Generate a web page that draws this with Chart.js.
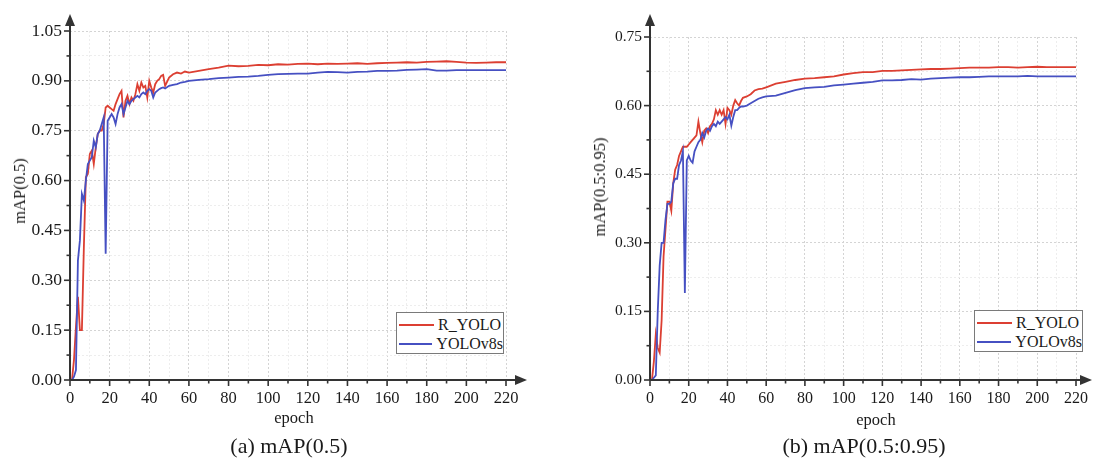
<!DOCTYPE html>
<html>
<head>
<meta charset="utf-8">
<script src="https://cdn.jsdelivr.net/npm/chart.js@4"></script>
<style>
    html, body { margin: 0; padding: 0; background: #fff; }
    body { width: 1097px; height: 464px; position: relative; overflow: hidden; font-family: 'Liberation Serif', 'DejaVu Serif', serif; color: #1a1a1a; }
    .wrap { position: absolute; top: 0; height: 430px; }
    .ytitle { position: absolute; transform: translate(-50%, -50%) rotate(-90deg); white-space: nowrap; font-size: 16.5px; }
    .xtitle { position: absolute; transform: translate(-50%, -50%); font-size: 16.5px; }
    .caption { position: absolute; transform: translate(-50%, -50%); font-size: 22px; white-space: nowrap; }
    .legend { position: absolute; border: 1.5px solid #7a7a7a; background: #fff; box-sizing: border-box; padding: 2px 0 0 2px; }
    .legend-item { display: flex; align-items: center; height: 19px; font-size: 16px; }
    .legend-line { width: 35px; height: 2px; margin-right: 4px; }
</style>
</head>
<body>
<div class="wrap" style="left:0;width:545px;"><canvas id="chartA"></canvas></div>
<div class="wrap" style="left:575px;width:522px;"><canvas id="chartB"></canvas></div>

<div class="ytitle" style="left:20px;top:191px;">mAP(0.5)</div>
<div class="ytitle" style="left:600px;top:187px;">mAP(0.5:0.95)</div>
<div class="xtitle" style="left:294px;top:418px;">epoch</div>
<div class="xtitle" style="left:876px;top:420px;">epoch</div>
<div class="caption" style="left:289px;top:446px;">(a) mAP(0.5)</div>
<div class="caption" style="left:864px;top:446px;">(b) mAP(0.5:0.95)</div>
<div class="legend" id="legendA" style="left:396px;top:312px;width:108px;height:42px;"></div>
<div class="legend" id="legendB" style="left:974px;top:310px;width:109px;height:42px;"></div>

<script>
const seriesNames = ['R_YOLO', 'YOLOv8s'];
const seriesColors = ['#dc3f32', '#4650c2'];

const epochs = [
    0, 1, 2, 3, 4, 5, 6, 7, 8, 9, 10, 11, 12, 13, 14, 15, 16, 17, 18, 19,
    20, 21, 22, 23, 24, 25, 26, 27, 28, 29, 30, 31, 32, 33, 34, 35, 36, 37, 38, 39,
    40, 41, 42, 43, 44, 45, 46, 47, 48, 50, 52, 54, 56, 58, 60,
    65, 70, 75, 80, 85, 90, 95, 100, 105, 110, 115, 120, 125, 130, 135, 140, 145, 150,
    155, 160, 165, 170, 175, 180, 185, 190, 195, 200, 205, 210, 215, 220
];

// mAP(0.5)
const map50Ryolo = [
    0.00, 0.00, 0.06, 0.16, 0.25, 0.15, 0.15, 0.40, 0.61, 0.62,
    0.68, 0.69, 0.65, 0.70, 0.74, 0.75, 0.75, 0.77, 0.82, 0.825,
    0.82, 0.815, 0.81, 0.83, 0.845, 0.86, 0.87, 0.79, 0.84, 0.855,
    0.83, 0.85, 0.84, 0.86, 0.89, 0.87, 0.895, 0.88, 0.885, 0.85,
    0.90, 0.88, 0.865, 0.89, 0.90, 0.905, 0.915, 0.918, 0.885,
    0.91, 0.92, 0.925, 0.922, 0.928, 0.925,
    0.93, 0.935, 0.94, 0.946, 0.944, 0.945, 0.948, 0.947, 0.95, 0.949, 0.951, 0.952, 0.95, 0.952, 0.951, 0.952,
    0.953, 0.951, 0.953, 0.954, 0.955, 0.956, 0.955, 0.957, 0.958, 0.959, 0.957, 0.955, 0.954, 0.955, 0.956, 0.956
];
const map50Yolov8s = [
    0.00, 0.00, 0.01, 0.03, 0.36, 0.42, 0.56, 0.54, 0.60, 0.65,
    0.66, 0.67, 0.72, 0.70, 0.74, 0.75, 0.77, 0.79, 0.38, 0.78,
    0.79, 0.80, 0.79, 0.77, 0.80, 0.82, 0.83, 0.80, 0.82, 0.84,
    0.83, 0.84, 0.845, 0.85, 0.855, 0.85, 0.86, 0.865, 0.86, 0.87,
    0.875, 0.87, 0.85, 0.865, 0.87, 0.875, 0.878, 0.88, 0.877,
    0.885, 0.888, 0.89, 0.895, 0.897, 0.90,
    0.903, 0.905, 0.908, 0.91, 0.912, 0.913, 0.915, 0.918, 0.92, 0.921, 0.922, 0.922, 0.925, 0.927, 0.926, 0.925,
    0.927, 0.928, 0.93, 0.93, 0.931, 0.933, 0.934, 0.935, 0.931, 0.931, 0.932, 0.932, 0.932, 0.932, 0.932, 0.932
];

// mAP(0.5:0.95)
const map5095Ryolo = [
    0.00, 0.00, 0.04, 0.10, 0.07, 0.06, 0.13, 0.27, 0.33, 0.39,
    0.39, 0.37, 0.43, 0.46, 0.47, 0.49, 0.50, 0.51, 0.51, 0.51,
    0.515, 0.52, 0.525, 0.53, 0.535, 0.565, 0.54, 0.52, 0.545, 0.55,
    0.54, 0.555, 0.56, 0.57, 0.59, 0.58, 0.59, 0.58, 0.59, 0.56,
    0.595, 0.59, 0.58, 0.60, 0.612, 0.605, 0.60, 0.61, 0.617,
    0.62, 0.625, 0.633, 0.636, 0.637, 0.64,
    0.648, 0.652, 0.656, 0.659, 0.66, 0.662, 0.664, 0.668, 0.671, 0.673, 0.673, 0.676, 0.676, 0.677, 0.678, 0.679,
    0.68, 0.68, 0.681, 0.682, 0.683, 0.683, 0.683, 0.684, 0.684, 0.683, 0.684, 0.685, 0.684, 0.684, 0.684, 0.684
];
const map5095Yolov8s = [
    0.00, 0.00, 0.005, 0.01, 0.15, 0.25, 0.30, 0.30, 0.35, 0.385,
    0.385, 0.39, 0.43, 0.44, 0.44, 0.47, 0.48, 0.50, 0.19, 0.48,
    0.49, 0.48, 0.475, 0.50, 0.51, 0.52, 0.525, 0.54, 0.53, 0.545,
    0.55, 0.545, 0.555, 0.56, 0.555, 0.565, 0.56, 0.565, 0.57, 0.575,
    0.57, 0.58, 0.556, 0.575, 0.59, 0.59, 0.595, 0.598, 0.598,
    0.60, 0.605, 0.61, 0.615, 0.618, 0.62,
    0.622, 0.628, 0.634, 0.638, 0.64, 0.641, 0.644, 0.646, 0.648, 0.65, 0.652, 0.655, 0.655, 0.656, 0.658, 0.657,
    0.659, 0.66, 0.661, 0.662, 0.662, 0.663, 0.664, 0.664, 0.664, 0.664, 0.665, 0.664, 0.664, 0.664, 0.664, 0.664
];

const xTickLabels = [0, 20, 40, 60, 80, 100, 120, 140, 160, 180, 200, 220];
const yTickLabelsA = ['0.00', '0.15', '0.30', '0.45', '0.60', '0.75', '0.90', '1.05'];
const yTickLabelsB = ['0.00', '0.15', '0.30', '0.45', '0.60', '0.75'];

const axisColor = '#333';

function isMajor(value, step) {
    const k = value / step;
    return Math.abs(k - Math.round(k)) < 1e-6;
}

// axis lines with arrowheads plus long/short tick marks
const axisArrows = {
    id: 'axisArrows',
    afterDraw(chart, args, opts) {
        const { ctx, chartArea: a, scales: { x, y } } = chart;
        ctx.save();
        ctx.strokeStyle = axisColor;
        ctx.fillStyle = axisColor;
        ctx.lineWidth = 1.6;
        const line = (x1, y1, x2, y2) => {
            ctx.beginPath();
            ctx.moveTo(x1, y1);
            ctx.lineTo(x2, y2);
            ctx.stroke();
        };
        x.ticks.forEach((t) => {
            const px = x.getPixelForValue(t.value);
            line(px, a.bottom, px, a.bottom + (isMajor(t.value, 20) ? 6 : 3.5));
        });
        y.ticks.forEach((t) => {
            const py = y.getPixelForValue(t.value);
            line(a.left - (isMajor(t.value, 0.15) ? 6 : 3.5), py, a.left, py);
        });
        ctx.lineWidth = 2;
        const xEnd = a.right + opts.xExtra;
        const yEnd = a.top - opts.yExtra;
        line(a.left, a.bottom, xEnd - 8, a.bottom);
        line(a.left, a.bottom, a.left, yEnd + 8);
        ctx.beginPath();
        ctx.moveTo(xEnd, a.bottom);
        ctx.lineTo(xEnd - 12, a.bottom - 5);
        ctx.lineTo(xEnd - 12, a.bottom + 5);
        ctx.closePath();
        ctx.fill();
        ctx.beginPath();
        ctx.moveTo(a.left, yEnd);
        ctx.lineTo(a.left - 5, yEnd + 12);
        ctx.lineTo(a.left + 5, yEnd + 12);
        ctx.closePath();
        ctx.fill();
        ctx.restore();
    }
};

function generateLegend(containerId) {
    const box = document.getElementById(containerId);
    box.innerHTML = '';
    seriesNames.forEach((name, i) => {
        const item = document.createElement('div');
        item.className = 'legend-item';
        item.innerHTML = `<span class="legend-line" style="background:${seriesColors[i]}"></span><span>${name}</span>`;
        box.appendChild(item);
    });
}

function makeChart(canvasId, seriesList, yMax, yLabels, sizes) {
    const datasets = seriesList.map((vals, i) => ({
        label: seriesNames[i],
        data: epochs.map((e, j) => ({ x: e, y: vals[j] })),
        borderColor: seriesColors[i],
        borderWidth: 1.8,
        pointRadius: 0,
        tension: 0,
        fill: false,
        order: i === 0 ? 1 : 0
    }));

    const gridColor = (step) => (ctx) => (isMajor(ctx.tick.value, step) ? '#d4d4d4' : '#ededed');

    return new Chart(document.getElementById(canvasId), {
        type: 'line',
        data: { datasets },
        options: {
            responsive: true,
            maintainAspectRatio: false,
            animation: false,
            layout: { padding: { top: sizes.top, right: sizes.right, left: 0, bottom: 0 } },
            plugins: {
                legend: { display: false },
                tooltip: { enabled: false },
                axisArrows: { xExtra: sizes.xExtra, yExtra: sizes.yExtra }
            },
            scales: {
                x: {
                    type: 'linear',
                    min: 0,
                    max: 220,
                    afterFit: (scale) => { scale.height = 50; },
                    grid: { color: gridColor(20), lineWidth: 1, drawTicks: false, borderDash: [2, 2] },
                    border: { display: false, dash: [2, 2] },
                    ticks: {
                        stepSize: 10,
                        autoSkip: false,
                        maxRotation: 0,
                        padding: 9,
                        color: '#1a1a1a',
                        font: { family: 'Liberation Serif', size: sizes.xFont },
                        callback: (v) => (xTickLabels.includes(Math.round(v)) && isMajor(v, 20) ? String(Math.round(v)) : '')
                    }
                },
                y: {
                    min: 0,
                    max: yMax,
                    afterFit: (scale) => { scale.width = sizes.yWidth; },
                    grid: { color: gridColor(0.15), lineWidth: 1, drawTicks: false, borderDash: [2, 2] },
                    border: { display: false, dash: [2, 2] },
                    ticks: {
                        stepSize: 0.075,
                        autoSkip: false,
                        padding: 8,
                        color: '#1a1a1a',
                        font: { family: 'Liberation Serif', size: sizes.yFont },
                        callback: (v) => (isMajor(v, 0.15) ? yLabels[Math.round(v / 0.15)] : '')
                    }
                }
            }
        },
        plugins: [axisArrows]
    });
}

makeChart('chartA', [map50Ryolo, map50Yolov8s], 1.05, yTickLabelsA,
    { top: 31, right: 39, yWidth: 70, xExtra: 21, yExtra: 17, xFont: 16.5, yFont: 17.5 });
makeChart('chartB', [map5095Ryolo, map5095Yolov8s], 0.75, yTickLabelsB,
    { top: 37, right: 11, yWidth: 75, xExtra: 16, yExtra: 23, xFont: 16, yFont: 15.5 });

generateLegend('legendA');
generateLegend('legendB');
</script>
</body>
</html>
